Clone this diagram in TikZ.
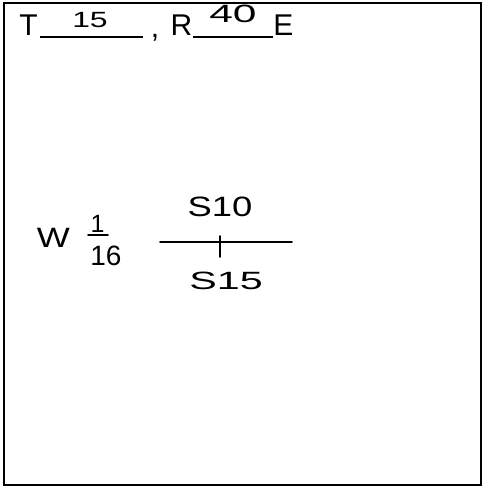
\documentclass[tikz,border=0pt]{standalone}
\usepackage{fontspec}
\setmainfont{Liberation Sans}
\begin{document}
\begin{tikzpicture}[x=1pt,y=-1pt,
  frame/.style={draw=black,line width=2.5pt},
  printed/.style={inner sep=0pt,font=\fontsize{30}{36}\selectfont},
  hand/.style={inner sep=0pt,font=\fontsize{#1}{#1}\selectfont},
  rule/.style={line width=1.8pt},
  pen/.style={line width=1.6pt,line cap=round}]
\useasboundingbox (0,0) rectangle (483,488);
\draw[frame] (4,3) rectangle (481,485);
% header
\node[printed,anchor=base] (T) at (28.5,35) {T};
\coordinate (u1a) at (40,37);
\coordinate (u1b) at (143,37);
\draw[rule] (u1a) -- (u1b);
\node[hand=22] (twp) at (90,20) {\scalebox{1.45}[1]{15}};
\node[printed,anchor=base] (comma) at (155,37) {,};
\node[printed,anchor=base] (R) at (181.5,35) {R};
\coordinate (u2a) at (193,37);
\coordinate (u2b) at (273,37);
\draw[rule] (u2a) -- (u2b);
\node[hand=25] (rng) at (233,14) {\scalebox{1.7}[1]{40}};
\node[printed,anchor=base] (E) at (283.5,35) {E};
% middle
\node[hand=28] (W) at (53.5,238) {\scalebox{1.25}[1]{W}};
\node[hand=25] (num) at (97.5,224) {1};
\node[hand=28] (den) at (106,256) {16};
\coordinate (fa) at (88,235);
\coordinate (fb) at (108,235);
\draw[pen] (fa) -- (fb);
\node[hand=28] (s10) at (220,207) {\scalebox{1.3}[1]{S10}};
\node[hand=25] (s15) at (226,281) {\scalebox{1.65}[1]{S15}};
\coordinate (la) at (160,242);
\coordinate (lb) at (292,242);
\coordinate (ta) at (220,236);
\coordinate (tb) at (220,257);
\draw[pen] (la) -- (lb);
\draw[pen] (ta) -- (tb);
\end{tikzpicture}
\end{document}
